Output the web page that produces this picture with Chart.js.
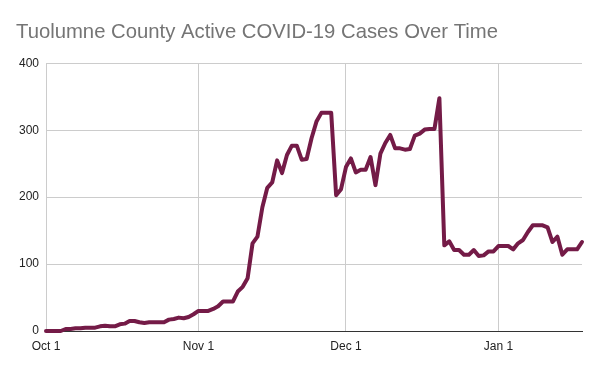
<!DOCTYPE html>
<html>
<head>
<meta charset="utf-8">
<script src="https://cdn.jsdelivr.net/npm/chart.js@4/dist/chart.umd.min.js"></script>
<style>
  html, body { margin: 0; padding: 0; background: #fff; }
  #wrap { width: 600px; height: 371px; }
</style>
</head>
<body>
<div id="wrap"><canvas id="casesChart" width="600" height="371"></canvas></div>
<script>
// Daily active cases, Oct 1 (day 0) through Jan 18 (day 109).
const activeCases = [
    0, 0, 0, 0, 3, 3, 4, 4, 5, 5,
    5, 7, 8, 7, 7, 10, 11, 15, 15, 13,
    12, 13, 13, 13, 13, 17, 18, 20, 19, 21,
    25, 30, 30, 30, 33, 37, 44, 44, 44, 59,
    66, 79, 131, 141, 185, 214, 222, 255, 236, 263,
    277, 277, 256, 257, 288, 313, 326, 326, 326, 203,
    212, 245, 258, 237, 241, 241, 260, 218, 265, 281,
    293, 273, 273, 271, 272, 292, 295, 301, 302, 302,
    348, 128, 134, 121, 121, 114, 114, 121, 112, 113,
    119, 119, 127, 127, 127, 122, 131, 136, 148, 158,
    158, 158, 155, 133, 141, 114, 122, 122, 122, 133,
];

// Month gridlines: day offsets from Oct 1 and their labels.
const monthDays = [0, 31, 61, 92];
const monthLabels = ["Oct 1", "Nov 1", "Dec 1", "Jan 1"];

const yTicks = [0, 100, 200, 300, 400];

const FONT = "'Liberation Sans', Arial, sans-serif";

function init() {
    const canvas = document.getElementById("casesChart");
    const points = activeCases.map((v, i) => ({ x: i, y: v }));

    new Chart(canvas.getContext("2d"), {
        type: "line",
        data: {
            datasets: [
                {
                    label: "Active cases",
                    data: points,
                    borderColor: "#741b47",
                    borderWidth: 4,
                    borderJoinStyle: "round",
                    borderCapStyle: "round",
                    pointRadius: 0,
                    tension: 0,
                    fill: false,
                    clip: false,
                },
            ],
        },
        options: {
            responsive: false,
            animation: false,
            layout: { padding: { left: 16, right: 18, top: 0, bottom: 0 } },
            plugins: {
                legend: { display: false },
                tooltip: { enabled: false },
                title: {
                    display: true,
                    text: "Tuolumne County Active COVID-19 Cases Over Time",
                    align: "start",
                    color: "#757575",
                    font: { family: FONT, size: 20.3, weight: "normal" },
                    padding: { top: 20, bottom: 19 },
                },
            },
            scales: {
                x: {
                    type: "linear",
                    min: 0,
                    max: activeCases.length - 1,
                    afterBuildTicks: (scale) => {
                        scale.ticks = monthDays.map((d) => ({ value: d }));
                    },
                    afterFit: (scale) => { scale.height = 40; },
                    ticks: {
                        autoSkip: false,
                        maxRotation: 0,
                        padding: 8,
                        color: "#222",
                        font: { family: FONT, size: 12 },
                        callback: (v) => monthLabels[monthDays.indexOf(v)] ?? "",
                    },
                    grid: { color: "#cccccc", lineWidth: 1, drawTicks: false },
                    border: { display: true, color: "#333333", width: 1 },
                },
                y: {
                    min: 0,
                    max: 400,
                    afterBuildTicks: (scale) => {
                        scale.ticks = yTicks.map((v) => ({ value: v }));
                    },
                    afterFit: (scale) => { scale.width = 30; },
                    ticks: {
                        padding: 7,
                        color: "#222",
                        font: { family: FONT, size: 12 },
                    },
                    grid: {
                        color: (ctx) => (ctx.tick && ctx.tick.value === 0 ? "#333333" : "#cccccc"),
                        lineWidth: 1,
                        drawTicks: false,
                    },
                    border: { display: false },
                },
            },
        },
    });
}

if (document.readyState === "loading") {
    document.addEventListener("DOMContentLoaded", init, { once: true });
} else {
    init();
}
</script>
</body>
</html>
